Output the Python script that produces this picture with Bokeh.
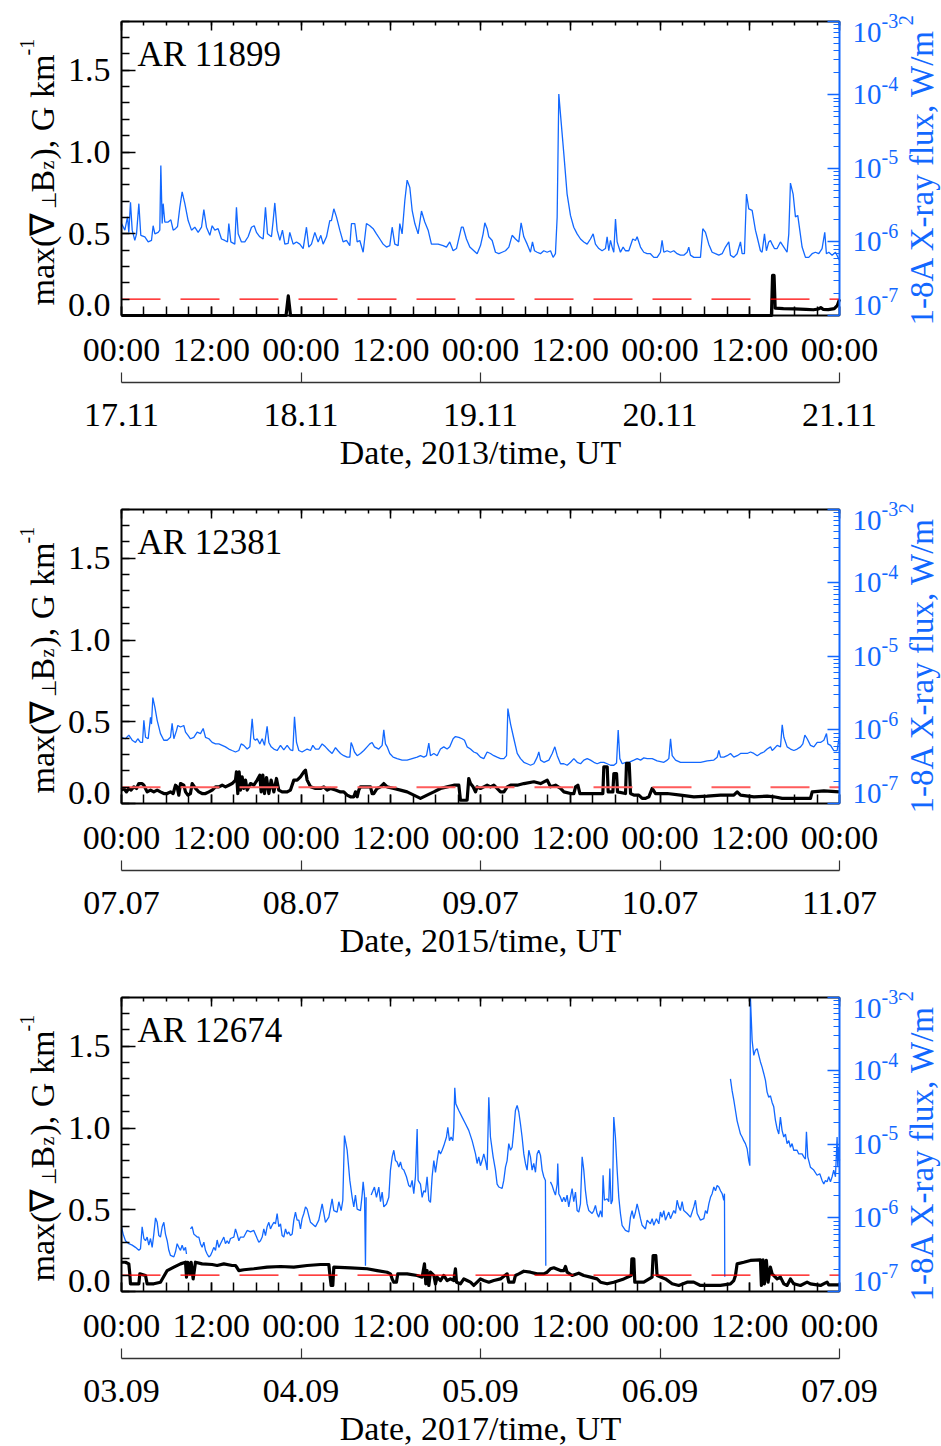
import math
from bokeh.plotting import figure
from bokeh.models import (Range1d, LinearAxis, LogAxis, LogScale, FixedTicker, Label,
                          CustomJSTickFormatter)
from bokeh.layouts import column
from bokeh.embed import file_html
from bokeh.resources import INLINE

NAN = float("nan")

# ---------------- axis values ----------------
hours_major = [0, 12, 24, 36, 48, 60, 72, 84, 96]
hours_minor = list(range(0, 97, 3))
time_labels = ["00:00", "12:00", "00:00", "12:00", "00:00", "12:00", "00:00", "12:00", "00:00"]
day_ticks = [0, 24, 48, 72, 96]
grad_range = (0.0, 1.8)
grad_ticks = [0.0, 0.5, 1.0, 1.5]
grad_labels = ["0.0", "0.5", "1.0", "1.5"]
grad_minor = [i / 10 for i in range(19)]
flux_exponents = [-7, -6, -5, -4, -3]
flux_minor = [k * 10.0 ** n for n in range(-7, -3) for k in range(2, 10)]
threshold = 0.1

# ---------------- panel 1 : AR 11899 (2013) ----------------
ar1 = "AR 11899"
year1 = "2013"
dates1 = ["17.11", "18.11", "19.11", "20.11", "21.11"]
# (hour, log10 flux W/m^2)
xray1 = [(0.00,-5.75),(0.45,-5.84),(0.80,-5.66),(0.98,-5.87),(1.20,-5.46),(1.43,-5.84),(1.78,-5.98),(2.01,-5.89),(2.32,-5.48),(2.58,-5.91),
 (3.12,-5.93),(3.57,-6.00),(4.01,-5.98),(4.23,-5.78),(4.46,-5.89),(4.90,-5.87),(5.12,-5.84),(5.26,-4.96),(5.44,-5.75),(5.57,-5.48),
 (5.79,-5.73),(6.24,-5.73),(6.60,-5.70),(6.91,-5.84),(7.22,-5.82),(7.49,-5.79),(7.80,-5.53),(8.11,-5.32),(8.47,-5.48),(8.91,-5.71),
 (9.36,-5.84),(9.80,-5.80),(10.25,-5.87),(10.70,-5.80),(11.01,-5.56),(11.36,-5.80),(11.81,-5.91),(12.12,-5.78),(12.48,-5.84),(12.92,-5.82),
 (13.37,-5.96),(13.81,-5.98),(14.17,-6.00),(14.35,-5.75),(14.62,-6.00),(15.15,-6.03),(15.37,-5.53),(15.60,-5.89),(16.04,-6.00),(16.49,-6.00),
 (16.93,-5.93),(17.38,-5.80),(17.74,-5.78),(18.05,-5.87),(18.49,-5.93),(18.94,-5.96),(19.25,-5.53),(19.52,-5.89),(20.05,-5.93),(20.28,-5.71),
 (20.50,-5.47),(20.81,-5.84),(21.17,-5.98),(21.52,-5.84),(21.84,-6.03),(22.28,-6.02),(22.50,-5.87),(22.95,-6.03),(23.40,-6.00),(23.84,-6.03),
 (24.29,-6.09),(24.73,-5.80),(25.04,-6.07),(25.40,-6.03),(25.85,-5.87),(26.29,-6.00),(26.65,-5.91),(26.96,-6.03),(27.41,-5.93),(27.85,-5.71),
 (28.07,-5.71),(28.39,-5.55),(28.74,-5.66),(29.19,-5.84),(29.63,-6.00),(30.08,-5.98),(30.53,-6.05),(30.75,-5.75),(31.19,-5.75),(31.51,-6.00),
 (31.86,-5.98),(32.31,-6.14),(32.75,-5.75),(33.20,-5.78),(33.65,-5.82),(34.09,-5.89),(34.54,-5.96),(34.98,-6.03),(35.43,-6.07),(35.87,-6.05),
 (36.19,-5.80),(36.54,-6.03),(36.99,-6.05),(37.21,-5.75),(37.52,-5.89),(37.88,-5.44),(38.19,-5.16),(38.55,-5.26),(38.86,-5.57),(39.22,-5.75),
 (39.66,-5.89),(40.11,-5.58),(40.55,-5.73),(41.00,-5.84),(41.44,-6.03),(41.89,-6.03),(42.34,-6.03),(43.00,-6.05),(43.45,-6.07),(43.89,-6.00),
 (44.34,-6.12),(44.79,-6.09),(45.45,-5.80),(45.68,-5.80),(46.12,-5.96),(46.57,-6.07),(47.55,-6.16),(48.00,-6.05),(48.35,-5.89),(48.58,-5.74),
 (48.89,-5.82),(49.11,-5.93),(49.56,-5.98),(50.00,-6.14),(50.45,-6.16),(50.89,-6.14),(51.34,-6.12),(51.79,-6.07),(52.23,-5.91),(52.68,-5.96),
 (53.12,-6.00),(53.43,-5.74),(53.79,-5.93),(54.24,-6.03),(54.68,-6.14),(54.95,-6.00),(55.22,-6.12),(55.57,-6.14),(56.02,-6.16),(56.46,-6.12),
 (56.91,-6.14),(57.36,-6.12),(57.71,-6.21),(58.02,-6.16),(58.25,-5.66),(58.47,-3.99),(58.69,-4.26),(59.14,-4.80),(59.58,-5.35),(60.03,-5.64),
 (60.47,-5.80),(60.92,-5.89),(61.37,-5.96),(61.81,-6.00),(62.26,-6.03),(62.70,-5.96),(63.06,-5.89),(63.37,-6.03),(63.82,-6.09),(64.26,-6.12),
 (64.71,-6.09),(64.93,-5.93),(65.15,-6.12),(65.38,-5.98),(65.60,-6.07),(65.82,-6.14),(66.05,-5.69),(66.27,-6.00),(66.71,-6.14),(67.07,-6.07),
 (67.38,-6.12),(67.83,-6.12),(68.36,-5.96),(68.72,-5.98),(68.94,-5.93),(69.39,-6.07),(69.83,-6.14),(70.28,-6.16),(70.72,-6.16),(71.17,-6.21),
 (71.62,-6.21),(72.06,-6.14),(72.28,-5.98),(72.51,-6.14),(72.95,-6.12),(73.40,-6.14),(73.84,-6.12),(74.29,-6.16),(74.73,-6.18),(75.18,-6.18),
 (75.63,-6.14),(75.85,-6.07),(76.07,-6.18),(76.52,-6.21),(76.96,-6.21),(77.41,-6.21),(77.72,-5.82),(78.08,-5.87),(78.52,-6.03),(78.97,-6.14),
 (79.41,-6.16),(79.86,-6.18),(80.31,-6.16),(80.75,-6.07),(81.20,-6.00),(81.42,-6.18),(81.86,-6.21),(82.31,-6.16),(82.76,-6.00),(82.98,-6.16),
 (83.29,-6.16),(83.56,-5.35),(83.87,-5.55),(84.32,-5.57),(84.76,-5.84),(84.98,-5.93),(85.43,-6.12),(85.65,-6.14),(85.97,-5.89),(86.23,-6.12),
 (86.54,-6.00),(86.77,-5.98),(86.99,-6.03),(87.30,-6.09),(87.66,-6.09),(88.10,-6.00),(88.55,-6.07),(88.99,-6.14),(89.22,-5.89),(89.44,-5.20),
 (89.80,-5.35),(90.11,-5.66),(90.42,-5.64),(90.69,-5.84),(91.00,-6.07),(91.45,-6.21),(91.89,-6.21),(92.34,-6.16),(92.78,-6.14),(93.23,-6.16),
 (93.67,-6.09),(94.03,-5.87),(94.25,-6.16),(94.57,-6.14),(95.01,-6.18),(95.46,-6.14),(95.90,-6.23),(96.00,-6.25)]
# (hour, max gradient G/km)
grad1 = [(0.0,0.0),(22.0,0.0),(22.15,0.06),(22.3,0.12),(22.45,0.06),(22.6,0.0),(86.9,0.0),(87.05,0.245),(87.25,0.245),
 (87.4,0.045),(88.5,0.042),(90.0,0.040),(91.5,0.038),(92.5,0.035),(93.2,0.040),(93.5,0.048),(93.8,0.038),(94.5,0.036),
 (95.3,0.042),(95.7,0.06),(96.0,0.10)]

# ---------------- panel 2 : AR 12381 (2015) ----------------
ar2 = "AR 12381"
year2 = "2015"
dates2 = ["07.07", "08.07", "09.07", "10.07", "11.07"]
xray2 = [(0.00,-6.10),(0.53,-6.12),(0.98,-6.07),(1.43,-6.14),(1.87,-6.17),(2.18,-6.12),(2.54,-6.17),(2.81,-6.17),(2.99,-5.87),(3.21,-6.10),
 (3.57,-6.12),(3.88,-5.83),(4.01,-5.92),(4.19,-5.56),(4.46,-5.69),(4.77,-5.87),(5.21,-6.05),(5.66,-6.14),(6.11,-6.14),(6.55,-6.10),
 (6.77,-5.91),(7.00,-6.12),(7.35,-6.01),(7.53,-5.94),(7.89,-5.96),(8.33,-5.94),(8.56,-6.03),(8.87,-6.07),(9.22,-6.12),(9.67,-6.10),
 (10.12,-6.03),(10.56,-6.05),(10.92,-5.98),(11.23,-6.10),(11.68,-6.12),(12.12,-6.17),(12.57,-6.19),(13.01,-6.19),(13.46,-6.21),(13.90,-6.23),
 (14.35,-6.26),(14.79,-6.28),(15.24,-6.30),(15.69,-6.28),(16.00,-6.19),(16.35,-6.21),(16.80,-6.26),(17.16,-6.23),(17.47,-5.85),(17.69,-6.12),
 (17.91,-6.14),(18.14,-6.12),(18.49,-6.19),(18.81,-6.12),(19.12,-6.21),(19.47,-5.95),(19.70,-6.17),(20.01,-6.23),(20.37,-6.26),(20.81,-6.28),
 (21.26,-6.21),(21.70,-6.27),(22.15,-6.21),(22.59,-6.27),(22.91,-6.28),(23.13,-5.82),(23.40,-6.17),(23.71,-6.28),(24.15,-6.30),(24.82,-6.26),
 (25.27,-6.28),(25.58,-6.21),(25.94,-6.26),(26.38,-6.26),(26.83,-6.19),(27.27,-6.23),(27.72,-6.28),(28.16,-6.32),(28.61,-6.24),(28.92,-6.28),
 (29.28,-6.32),(29.72,-6.35),(30.17,-6.37),(30.53,-6.37),(30.70,-6.17),(30.93,-6.23),(31.15,-6.30),(31.51,-6.35),(31.95,-6.32),(32.40,-6.28),
 (32.84,-6.23),(33.20,-6.19),(33.51,-6.17),(33.82,-6.23),(34.40,-6.26),(34.85,-6.21),(35.07,-6.00),(35.29,-6.19),(35.52,-6.23),(35.87,-6.32),
 (36.32,-6.37),(36.85,-6.39),(37.52,-6.41),(38.19,-6.41),(38.86,-6.39),(39.53,-6.37),(39.97,-6.35),(40.42,-6.37),(40.78,-6.35),(41.09,-6.18),
 (41.31,-6.35),(41.76,-6.32),(42.20,-6.35),(42.65,-6.26),(43.09,-6.23),(43.54,-6.26),(43.89,-6.23),(44.34,-6.12),(44.65,-6.09),(45.10,-6.10),
 (45.54,-6.12),(45.86,-6.14),(46.21,-6.23),(46.66,-6.26),(47.10,-6.30),(47.55,-6.32),(47.99,-6.37),(48.44,-6.39),(48.89,-6.30),(49.33,-6.32),
 (49.78,-6.35),(50.22,-6.37),(50.67,-6.39),(51.13,-6.39),(51.48,-6.35),(51.66,-5.71),(52.02,-5.92),(52.46,-6.12),(52.91,-6.32),(53.35,-6.39),
 (53.80,-6.44),(54.25,-6.46),(54.69,-6.48),(55.14,-6.46),(55.58,-6.37),(55.80,-6.30),(56.03,-6.41),(56.47,-6.44),(57.14,-6.41),(57.59,-6.32),
 (57.94,-6.23),(58.26,-6.35),(58.70,-6.46),(59.15,-6.46),(59.59,-6.48),(60.04,-6.44),(60.48,-6.39),(60.93,-6.44),(61.38,-6.46),(61.82,-6.41),
 (62.27,-6.39),(62.71,-6.41),(63.16,-6.44),(63.60,-6.46),(64.05,-6.44),(64.49,-6.44),(64.94,-6.46),(65.39,-6.48),(65.83,-6.48),(66.19,-6.45),
 (66.41,-6.00),(66.63,-6.39),(66.95,-6.46),(67.39,-6.44),(67.84,-6.44),(68.51,-6.41),(68.95,-6.39),(69.40,-6.41),(69.84,-6.38),(70.29,-6.39),
 (70.96,-6.39),(71.62,-6.42),(72.52,-6.44),(72.96,-6.41),(73.18,-6.39),(73.41,-6.12),(73.63,-6.35),(74.08,-6.41),(74.74,-6.44),(75.64,-6.44),
 (76.53,-6.44),(77.42,-6.44),(78.31,-6.42),(79.20,-6.41),(79.65,-6.37),(79.87,-6.28),(80.09,-6.37),(80.54,-6.37),(80.98,-6.35),(81.43,-6.32),
 (81.87,-6.37),(82.32,-6.35),(82.77,-6.32),(83.66,-6.32),(84.10,-6.30),(84.55,-6.32),(85.00,-6.35),(85.44,-6.32),(85.89,-6.30),(86.33,-6.26),
 (86.78,-6.23),(87.00,-6.28),(87.22,-6.26),(87.67,-6.21),(88.11,-6.23),(88.34,-5.93),(88.56,-6.10),(89.00,-6.23),(89.45,-6.26),(89.90,-6.28),
 (90.34,-6.26),(90.79,-6.23),(91.10,-6.19),(91.37,-6.07),(91.68,-6.12),(92.12,-6.21),(92.57,-6.23),(93.02,-6.17),(93.46,-6.17),(93.91,-6.14),
 (94.26,-6.05),(94.44,-6.19),(94.80,-6.21),(95.24,-6.28),(95.69,-6.28),(95.91,-6.12),(96.00,-6.19)]
grad2 = [(0.00,0.082),(0.31,0.092),(0.67,0.071),(0.98,0.092),(1.29,0.082),(1.65,0.102),(2.01,0.092),(2.32,0.122),(2.76,0.122),(2.99,0.112),
 (3.43,0.071),(3.88,0.082),(4.32,0.071),(4.77,0.082),(5.21,0.071),(5.66,0.061),(6.11,0.061),(6.55,0.071),(6.91,0.061),(7.22,0.112),
 (7.44,0.102),(7.66,0.051),(7.89,0.122),(8.33,0.112),(8.56,0.071),(8.87,0.051),(9.22,0.061),(9.45,0.122),(9.89,0.092),(10.34,0.071),
 (10.78,0.061),(11.23,0.061),(11.68,0.071),(12.12,0.082),(12.57,0.102),(13.01,0.102),(13.46,0.112),(13.90,0.102),(14.35,0.112),(14.79,0.122),
 (15.24,0.143),(15.37,0.194),(15.55,0.061),(15.73,0.194),(15.91,0.082),(16.13,0.163),(16.35,0.092),(16.58,0.143),(16.80,0.082),(17.25,0.122),
 (17.69,0.112),(18.14,0.143),(18.49,0.173),(18.67,0.071),(18.90,0.173),(19.12,0.061),(19.39,0.159),(19.70,0.061),(20.01,0.143),(20.37,0.071),
 (20.72,0.153),(21.03,0.082),(21.48,0.071),(22.15,0.071),(22.59,0.082),(23.04,0.143),(23.48,0.143),(23.93,0.163),(24.38,0.194),(24.60,0.204),
 (24.82,0.143),(25.27,0.102),(25.94,0.092),(26.60,0.092),(27.05,0.102),(27.50,0.082),(27.94,0.092),(28.61,0.082),(29.28,0.071),(29.72,0.071),
 (30.17,0.051),(30.61,0.041),(31.06,0.041),(31.28,0.071),(31.51,0.041),(31.73,0.082),(31.95,0.102),(32.84,0.102),(33.29,0.102),(33.51,0.061),
 (33.73,0.061),(34.18,0.092),(34.63,0.102),(35.07,0.122),(35.52,0.102),(36.41,0.092),(37.30,0.082),(38.19,0.071),(39.08,0.051),(39.97,0.031),
 (40.86,0.051),(41.76,0.071),(42.65,0.092),(43.54,0.102),(44.43,0.112),(45.10,0.112),(45.32,0.020),(46.21,0.020),(46.43,0.153),(46.66,0.122),
 (47.01,0.102),(47.33,0.071),(47.55,0.102),(47.99,0.092),(48.44,0.102),(48.89,0.112),(49.33,0.102),(49.78,0.112),(50.22,0.092),(50.67,0.071),
 (51.13,0.071),(51.57,0.102),(52.02,0.112),(52.91,0.112),(53.80,0.122),(55.14,0.133),(56.03,0.122),(56.92,0.143),(57.36,0.102),(58.03,0.112),
 (58.70,0.092),(59.15,0.071),(60.04,0.061),(60.48,0.061),(60.71,0.102),(61.02,0.112),(61.29,0.061),(62.27,0.061),(64.05,0.061),(64.36,0.061),
 (64.49,0.224),(64.94,0.224),(65.07,0.071),(65.70,0.071),(65.83,0.183),(66.19,0.183),(66.32,0.071),(67.39,0.061),(67.52,0.245),(67.88,0.245),
 (68.06,0.061),(68.51,0.051),(69.17,0.051),(69.62,0.031),(70.07,0.031),(70.51,0.041),(70.96,0.092),(71.40,0.061),(72.96,0.061),(74.74,0.051),
 (76.53,0.041),(78.31,0.045),(80.09,0.051),(81.87,0.051),(82.32,0.071),(82.77,0.051),(84.55,0.041),(86.33,0.045),(87.22,0.041),(88.34,0.031),
 (89.90,0.031),(92.12,0.031),(92.35,0.071),(93.91,0.077),(96.00,0.071)]

# ---------------- panel 3 : AR 12674 (2017) ----------------
ar3 = "AR 12674"
year3 = "2017"
dates3 = ["03.09", "04.09", "05.09", "06.09", "07.09"]
xray3 = [(0.00,-6.12),(0.22,-6.22),(0.53,-6.31),(0.98,-6.35),(1.43,-6.37),(1.87,-6.40),(2.32,-6.44),(2.54,-6.42),(2.76,-6.12),(2.99,-6.28),
 (3.21,-6.31),(3.43,-6.26),(3.65,-6.37),(3.88,-6.28),(4.10,-6.40),(4.32,-6.22),(4.55,-6.00),(4.77,-6.06),(4.99,-6.24),(5.21,-6.26),
 (5.44,-6.12),(5.66,-6.06),(5.88,-6.22),(6.11,-6.31),(6.33,-6.44),(6.55,-6.51),(7.00,-6.53),(7.22,-6.46),(7.44,-6.35),(7.66,-6.40),
 (7.89,-6.44),(8.11,-6.37),(8.33,-6.44),(8.56,-6.40),(8.69,-6.49),(8.95,NAN),(9.22,-6.15),(9.45,-6.12),(9.67,-6.22),(9.89,-6.24),
 (10.12,-6.26),(10.34,-6.26),(10.56,-6.35),(10.78,-6.40),(11.01,-6.33),(11.23,-6.44),(11.45,-6.49),(11.68,-6.53),(11.90,-6.51),(12.12,-6.46),
 (12.34,-6.40),(12.57,-6.44),(12.79,-6.30),(13.01,-6.40),(13.24,-6.35),(13.68,-6.26),(13.90,-6.35),(14.13,-6.31),(14.35,-6.35),(14.57,-6.28),
 (15.02,-6.26),(15.24,-6.15),(15.46,-6.22),(15.69,-6.31),(15.91,-6.26),(16.35,-6.26),(16.80,-6.17),(17.25,-6.19),(17.69,-6.17),(18.14,-6.28),
 (18.36,-6.33),(18.58,-6.31),(18.81,-6.26),(19.03,-6.15),(19.25,-6.24),(19.47,-6.12),(19.70,-6.06),(19.92,-6.15),(20.14,-6.10),(20.37,-6.06),
 (20.59,-6.08),(20.81,-5.94),(21.03,-6.12),(21.26,-6.08),(21.48,-6.24),(21.70,-6.26),(21.93,-6.15),(22.15,-6.22),(22.37,-6.19),(22.59,-6.24),
 (22.82,-6.22),(23.04,-6.03),(23.26,-5.92),(23.48,-6.03),(23.71,-6.03),(23.93,-6.15),(24.15,-6.01),(24.38,-5.94),(24.60,-5.85),(24.82,-5.88),
 (25.04,-5.97),(25.27,-6.06),(25.94,-6.12),(26.38,-6.03),(26.83,-5.81),(27.27,-6.06),(27.72,-5.99),(28.16,-5.74),(28.39,-5.90),(28.83,-5.92),
 (29.06,-5.78),(29.37,-5.90),(29.59,-5.76),(29.81,-4.88),(30.17,-5.08),(30.53,-5.49),(30.84,-5.72),(31.06,-5.85),(31.28,-5.69),(31.51,-5.88),
 (31.95,-5.90),(32.17,-5.69),(32.31,-5.51),(32.49,-5.69),(32.62,-6.65),(32.71,-5.72),(33.00,NAN),(33.38,-5.69),(33.82,-5.58),(34.09,-5.72),
 (34.40,-5.58),(34.63,-5.78),(34.85,-5.65),(35.07,-5.85),(35.43,-5.81),(35.74,-5.72),(35.96,-5.35),(36.19,-5.17),(36.41,-5.08),(36.63,-5.22),
 (36.85,-5.24),(37.08,-5.31),(37.30,-5.24),(37.52,-5.33),(37.75,-5.35),(38.10,-5.44),(38.41,-5.56),(38.64,-5.58),(38.86,-5.49),(39.08,-5.67),
 (39.30,-5.44),(39.53,-4.79),(39.66,-5.49),(39.97,-5.54),(40.20,-5.72),(40.42,-5.63),(40.64,-5.65),(40.86,-5.44),(41.09,-5.76),(41.31,-5.79),
 (41.53,-5.44),(41.76,-5.22),(41.98,-5.38),(42.20,-5.22),(42.42,-5.08),(42.65,-5.13),(42.87,-5.08),(43.09,-5.02),(43.45,-4.90),(43.63,-4.77),
 (43.85,-4.95),(44.07,-4.90),(44.30,-4.95),(44.43,-4.77),(44.56,-4.23),(44.70,-4.45),(45.10,-4.54),(45.54,-4.63),(45.99,-4.72),(46.43,-4.81),
 (46.88,-4.95),(47.33,-5.13),(47.55,-5.26),(47.77,-5.17),(47.99,-5.29),(48.22,-5.22),(48.44,-5.13),(48.66,-5.22),(48.89,-5.35),(49.11,-4.36),
 (49.33,-4.90),(49.69,-5.17),(50.00,-5.35),(50.22,-5.54),(50.45,-5.58),(50.89,-5.60),(51.11,-5.49),(51.34,-5.31),(51.56,-5.22),(51.78,-4.99),
 (52.01,-5.08),(52.23,-5.04),(52.45,-4.81),(52.67,-4.54),(52.90,-4.47),(53.12,-4.56),(53.34,-4.72),(53.56,-4.90),(53.79,-5.13),(54.01,-5.26),
 (54.23,-5.35),(54.46,-5.08),(54.68,-5.17),(54.90,-5.35),(55.12,-5.26),(55.35,-5.38),(55.57,-5.13),(55.79,-5.08),(56.02,-5.15),(56.24,-5.35),
 (56.46,-5.44),(56.68,-5.49),(56.73,-6.65),(57.00,NAN),(57.35,-5.51),(57.58,-5.56),(57.80,-5.63),(58.02,-5.69),(58.25,-5.54),(58.33,-5.26),
 (58.47,-5.67),(58.69,-5.72),(58.91,-5.78),(59.14,-5.72),(59.36,-5.78),(59.58,-5.69),(59.80,-5.85),(60.03,-5.72),(60.25,-5.60),(60.47,-5.78),
 (60.70,-5.65),(60.92,-5.90),(61.14,-5.92),(61.36,-5.81),(61.59,-5.17),(61.81,-5.35),(62.03,-5.63),(62.25,-5.81),(62.48,-5.90),(62.92,-5.94),
 (63.15,-5.90),(63.37,-5.83),(63.59,-5.94),(63.81,-5.99),(64.04,-5.90),(64.26,-5.99),(64.39,-5.42),(64.57,-5.76),(64.93,-5.74),(65.15,-5.78),
 (65.29,-5.33),(65.46,-5.81),(65.64,-5.76),(65.82,-4.63),(66.04,-4.90),(66.27,-5.35),(66.49,-5.72),(66.71,-5.94),(66.93,-6.10),(67.38,-6.17),
 (67.83,-6.19),(68.05,-5.99),(68.27,-5.90),(68.49,-6.01),(68.72,-5.92),(68.94,-5.81),(69.16,-5.90),(69.39,-6.01),(69.61,-6.10),(70.05,-6.15),
 (70.28,-6.03),(70.72,-6.08),(70.95,-6.01),(71.17,-6.10),(71.52,-6.01),(71.84,-6.08),(72.06,-5.92),(72.28,-5.99),(72.51,-5.90),(72.73,-6.03),
 (73.17,-5.92),(73.40,-6.01),(73.84,-5.90),(74.07,-5.94),(74.29,-5.76),(74.51,-5.85),(74.73,-5.90),(74.96,-5.78),(75.18,-5.90),(75.63,-5.94),
 (76.07,-5.99),(76.52,-5.85),(76.74,-5.76),(76.97,-5.94),(77.41,-6.03),(77.86,-6.01),(78.08,-5.90),(78.30,-5.94),(78.53,-5.81),(78.75,-5.72),
 (78.97,-5.67),(79.20,-5.58),(79.42,-5.63),(79.64,-5.56),(79.87,-5.58),(80.09,-5.63),(80.31,-5.67),(80.53,-5.76),(80.62,-5.67),(80.66,-6.80),
 (81.00,NAN),(81.42,-4.11),(81.64,-4.27),(81.87,-4.40),(82.09,-4.54),(82.31,-4.68),(82.53,-4.77),(82.76,-4.86),(82.98,-4.90),(83.20,-4.95),
 (83.42,-4.99),(83.65,-5.06),(83.87,-5.22),(84.01,-5.29),(84.09,-3.00),(84.32,-3.59),(84.54,-3.79),(84.76,-3.72),(84.99,-3.70),(85.21,-3.79),
 (85.43,-3.88),(85.65,-3.95),(85.88,-4.04),(86.10,-4.13),(86.32,-4.29),(86.54,-4.36),(86.77,-4.34),(86.99,-4.43),(87.21,-4.49),(87.43,-4.67),
 (87.66,-4.79),(87.88,-4.86),(88.10,-4.63),(88.32,-4.81),(88.55,-4.90),(88.77,-4.86),(88.99,-4.99),(89.22,-4.95),(89.44,-5.04),(89.66,-4.99),
 (89.88,-5.08),(90.33,-5.08),(90.55,-5.13),(91.00,-5.13),(91.22,-5.17),(91.44,-5.20),(91.58,-4.83),(91.76,-5.17),(92.11,-5.31),(92.56,-5.35),
 (93.00,-5.42),(93.36,-5.40),(93.67,-5.49),(93.90,-5.54),(94.12,-5.49),(94.34,-5.51),(94.56,-5.44),(94.79,-5.51),(95.01,-5.44),(95.23,-5.35),
 (95.46,-5.44),(95.68,-4.90),(95.77,-5.31),(95.90,-5.04),(96.00,-5.22)]
grad3 = [(0.00,0.179),(0.53,0.179),(0.98,0.169),(1.11,0.108),(1.20,0.047),(2.32,0.047),(2.45,0.108),(3.21,0.098),(3.43,0.047),(4.32,0.047),
 (5.21,0.057),(6.11,0.128),(7.00,0.149),(7.89,0.169),(8.56,0.179),(8.69,0.088),(8.87,0.179),(9.14,0.108),(9.31,0.179),(9.58,0.077),
 (9.89,0.179),(10.78,0.169),(12.12,0.165),(12.79,0.159),(13.68,0.169),(14.80,0.159),(15.24,0.159),(15.46,0.145),(15.69,0.128),(16.35,0.133),
 (17.69,0.139),(19.47,0.149),(21.26,0.153),(23.04,0.149),(24.82,0.159),(26.60,0.165),(27.72,0.165),(27.85,0.108),(28.03,0.037),(28.25,0.037),
 (28.39,0.149),(30.61,0.145),(32.84,0.139),(34.18,0.128),(35.52,0.118),(35.96,0.108),(36.19,0.077),(36.41,0.057),(36.76,0.057),(36.94,0.108),
 (38.19,0.108),(39.53,0.098),(40.20,0.088),(40.51,0.169),(40.69,0.047),(40.86,0.128),(41.09,0.037),(41.31,0.118),(41.76,0.098),(41.98,0.047),
 (42.20,0.088),(42.65,0.067),(43.09,0.098),(43.54,0.067),(43.98,0.077),(44.43,0.067),(44.65,0.139),(44.79,0.057),(45.32,0.047),(45.77,0.077),
 (46.21,0.067),(46.66,0.057),(47.10,0.037),(47.55,0.057),(47.99,0.077),(48.44,0.067),(49.11,0.057),(49.78,0.067),(50.67,0.077),(51.56,0.108),
 (51.78,0.057),(52.45,0.057),(52.67,0.098),(53.12,0.108),(53.79,0.124),(54.68,0.118),(55.57,0.108),(56.46,0.108),(56.91,0.118),(57.35,0.139),
 (57.80,0.145),(58.69,0.128),(59.14,0.128),(59.36,0.153),(59.58,0.118),(60.25,0.098),(61.14,0.112),(61.81,0.098),(62.70,0.088),(63.59,0.077),
 (64.04,0.057),(64.93,0.047),(65.82,0.057),(67.16,0.077),(68.15,0.098),(68.24,0.200),(68.50,0.200),(68.63,0.057),(69.83,0.057),(70.94,0.088),
 (71.08,0.220),(71.44,0.220),(71.61,0.098),(72.73,0.077),(73.62,0.047),(74.51,0.037),(75.62,0.057),(76.51,0.057),(77.41,0.037),(80.08,0.037),
 (81.42,0.047),(81.87,0.067),(82.09,0.098),(82.31,0.169),(83.20,0.179),(84.09,0.190),(85.43,0.194),(85.56,0.037),(85.78,0.194),(85.96,0.047),
 (86.22,0.190),(86.45,0.057),(86.76,0.149),(86.99,0.108),(87.66,0.077),(88.10,0.088),(88.55,0.047),(88.99,0.037),(89.44,0.077),(89.88,0.047),
 (90.78,0.037),(91.67,0.057),(92.11,0.047),(93.45,0.037),(94.34,0.057),(94.56,0.041),(96.00,0.041)]

# ---------------- styling / geometry (pixels inside each panel canvas) ----------------
SERIF = "Liberation Serif"
BLUE = "#1268ff"
CANVAS_W = 941
BOX_L, BOX_R, BOX_T, BOX_B = 121.0, 839.0, 20.7, 315.0
H0, H1 = hours_major[0], hours_major[-1]
G0, G1 = grad_range
E0, E1 = flux_exponents[0], flux_exponents[-1]


def hx(px):
    return H0 + (px - BOX_L) * (H1 - H0) / (BOX_R - BOX_L)


def vy(py):
    return G0 + (BOX_B - py) * (G1 - G0) / (BOX_B - BOX_T)


def ly(py):
    return 10.0 ** (E0 + (BOX_B - py) * (E1 - E0) / (BOX_B - BOX_T))


def lab(p, x, y, text, size, color="black", align="left", angle=0.0):
    # (x, y): pixel position of the text anchor; vertically (or, when rotated,
    # horizontally) the anchor is the middle of the text line
    p.add_layout(Label(x=hx(x), y=vy(y), text=text, angle=angle, text_align=align,
                       text_baseline="middle", text_font=SERIF, text_font_size=f"{size}px",
                       text_color=color))


blank = CustomJSTickFormatter(code="return ''")


def make_panel(ar, year, dates, xray, grad, dash_color, dash_width, height):
    p = figure(width=CANVAS_W, height=height,
               min_border_left=0, min_border_right=0, min_border_top=0, min_border_bottom=0,
               x_range=Range1d(hx(0), hx(CANVAS_W)), y_range=Range1d(vy(height), vy(0)),
               x_axis_location=None, y_axis_location=None,
               output_backend="svg", toolbar_location=None)
    p.extra_y_ranges = {"flux": Range1d(ly(height), ly(0))}
    p.extra_y_scales = {"flux": LogScale()}
    p.outline_line_color = None
    p.xgrid.visible = False
    p.ygrid.visible = False

    time_ticker = FixedTicker(ticks=hours_major, minor_ticks=hours_minor)
    xb = LinearAxis(fixed_location=G0, bounds=(H0, H1), ticker=time_ticker,
                    major_label_overrides={h: s for h, s in zip(hours_major, time_labels)},
                    major_tick_in=9, major_tick_out=0, minor_tick_in=9, minor_tick_out=0,
                    axis_line_width=2, major_tick_line_width=1.5, minor_tick_line_width=1.5,
                    major_label_text_font=SERIF, major_label_text_font_size="34px",
                    major_label_text_color="black", major_label_standoff=15)
    p.add_layout(xb, "below")
    xd = LinearAxis(fixed_location=vy(382), bounds=(H0, H1),
                    ticker=FixedTicker(ticks=day_ticks, minor_ticks=[]),
                    major_label_overrides={d: s for d, s in zip(day_ticks, dates)},
                    major_tick_in=10, major_tick_out=0, minor_tick_in=0, minor_tick_out=0,
                    axis_line_width=1.5, axis_line_color="#333333", major_tick_line_color="#333333",
                    major_tick_line_width=1.2,
                    major_label_text_font=SERIF, major_label_text_font_size="34px",
                    major_label_text_color="black", major_label_standoff=21)
    p.add_layout(xd, "below")
    xt = LinearAxis(fixed_location=G1, bounds=(H0, H1), ticker=time_ticker, formatter=blank,
                    major_tick_in=9, major_tick_out=0, minor_tick_in=4, minor_tick_out=0,
                    axis_line_width=2, major_tick_line_width=1.5, minor_tick_line_width=1.5,
                    major_label_standoff=0)
    p.add_layout(xt, "above")
    yl = LinearAxis(fixed_location=H0, bounds=(G0, G1),
                    ticker=FixedTicker(ticks=grad_ticks, minor_ticks=grad_minor), formatter=blank,
                    major_tick_in=14, major_tick_out=0, minor_tick_in=8, minor_tick_out=0,
                    axis_line_width=2, major_tick_line_width=1.5, minor_tick_line_width=1.5,
                    major_label_standoff=0)
    p.add_layout(yl, "left")
    yr = LogAxis(y_range_name="flux", fixed_location=H1,
                 bounds=(10.0 ** E0, 10.0 ** E1),
                 ticker=FixedTicker(ticks=[10.0 ** e for e in flux_exponents], minor_ticks=flux_minor),
                 formatter=blank,
                 major_tick_in=12, major_tick_out=0, minor_tick_in=6, minor_tick_out=0,
                 axis_line_width=2, axis_line_color=BLUE, major_tick_line_color=BLUE,
                 minor_tick_line_color=BLUE, major_tick_line_width=1.5, minor_tick_line_width=1.2,
                 major_label_standoff=0)
    p.add_layout(yr, "right")

    # data
    t_x = [a for a, b in xray]
    flux = [10.0 ** b if b == b else NAN for a, b in xray]
    t_g = [a for a, b in grad]
    g = [b for a, b in grad]
    p.line(t_x, flux, y_range_name="flux", line_color=BLUE, line_width=1.3)
    p.line(t_g, g, line_color="black", line_width=3.2, line_join="round")
    p.segment(x0=[H0], y0=[threshold], x1=[H1], y1=[threshold], line_color=dash_color,
              line_width=dash_width, line_dash="39 20")

    # left tick labels (bottom one lifted inside the box, as in the original)
    for v, s in zip(grad_ticks, grad_labels):
        cy = BOX_B - (v - G0) * (BOX_B - BOX_T) / (G1 - G0)
        if v == G0:
            cy -= 11
        lab(p, 110, cy, s, 34, align="right")
    # right tick labels 10^n
    for e in flux_exponents:
        cy = BOX_B - (e - E0) * (BOX_B - BOX_T) / (E1 - E0)
        if e == E1:
            cy += 11
        if e == E0:
            cy -= 10
        lab(p, 852, cy, "10", 29, color=BLUE)
        lab(p, 881, cy - 11, str(e), 20, color=BLUE)

    # left axis title: max(∇⊥Bz), G km^-1 (rotated, built from pieces)
    rot = math.pi / 2
    lab(p, 41.5, 305, "max(", 34, angle=rot)
    lab(p, 41.5, 235, "∇", 34, angle=rot)
    lab(p, 48, 208, "⊥", 20, angle=rot)
    lab(p, 41.5, 192, "B", 34, angle=rot)
    lab(p, 46.5, 169, "z", 20, angle=rot)
    lab(p, 41.5, 159, "), G km", 34, angle=rot)
    lab(p, 26, 55, "-1", 20, angle=rot)
    # right axis title
    lab(p, 921, 325, "1-8A X-ray flux, W/m", 33, color=BLUE, angle=rot)
    lab(p, 905, 25, "2", 21, color=BLUE, angle=rot)

    # region name and x title
    lab(p, 137, 54, ar, 35)
    lab(p, 480, 452, f"Date, {year}/time, UT", 34, align="center")
    return p


p1 = make_panel(ar1, year1, dates1, xray1, grad1, "#ff0000", 1.2, 488)
p2 = make_panel(ar2, year2, dates2, xray2, grad2, "#ff5c5c", 2.0, 488)
p3 = make_panel(ar3, year3, dates3, xray3, grad3, "#ff0000", 1.4, 470)

layout = column(p1, p2, p3, spacing=0)
open("out.html", "w").write(file_html(layout, INLINE))
